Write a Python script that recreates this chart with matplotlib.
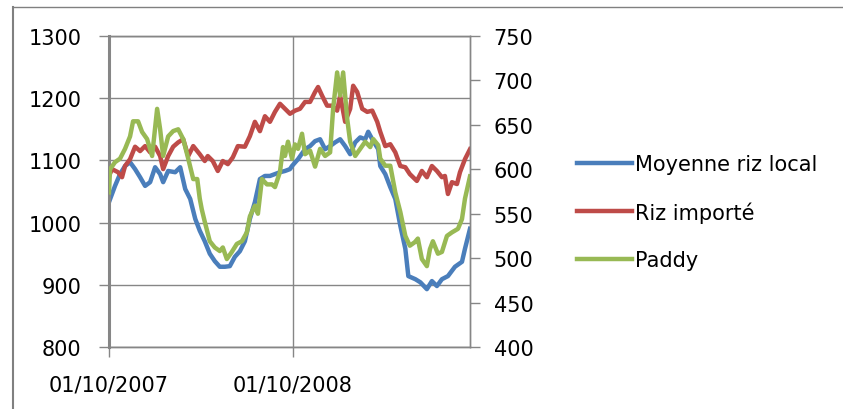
import numpy as np
import matplotlib
matplotlib.use("Agg")
import matplotlib.pyplot as plt
import matplotlib.dates as mdates
from matplotlib.lines import Line2D

START = np.datetime64("2007-10-01")

# Moyenne riz local (left axis), days after 01/10/2007
local_days = [0, 12, 22, 32, 42, 52, 62, 72, 82, 92, 102, 108, 118, 132, 142, 152,
              162, 172, 181, 191, 201, 211, 221, 231, 241, 251, 261, 271, 281, 291,
              301, 311, 321, 331, 341, 351, 361, 365, 377, 391, 401, 411, 421, 431,
              441, 451, 461, 471, 481, 491, 501, 511, 517, 527, 537, 541, 551, 561,
              571, 581, 591, 597, 611, 621, 634, 644, 654, 664, 676, 690, 704, 710, 720]
local_vals = [1033, 1059, 1078, 1091, 1097, 1086, 1073, 1059, 1065, 1089, 1078, 1065,
              1083, 1081, 1089, 1054, 1038, 1006, 987, 970, 950, 938, 929, 929, 930,
              945, 954, 970, 1006, 1033, 1070, 1075, 1075, 1078, 1081, 1083, 1086,
              1091, 1102, 1118, 1123, 1131, 1134, 1118, 1123, 1129, 1134, 1123, 1110,
              1129, 1137, 1134, 1146, 1131, 1118, 1091, 1078, 1057, 1038, 995, 958,
              914, 909, 904, 893, 906, 898, 909, 914, 929, 937, 958, 990]

# Riz importe (left axis)
import_days = [0, 6, 18, 26, 32, 42, 52, 62, 72, 82, 92, 102, 108, 118, 128, 138, 148,
               158, 168, 181, 191, 197, 207, 217, 227, 237, 247, 257, 271, 281, 291,
               301, 311, 321, 331, 341, 351, 361, 371, 381, 391, 401, 411, 417, 425,
               435, 445, 455, 461, 471, 481, 487, 495, 505, 515, 525, 535, 541, 551,
               561, 571, 581, 591, 600, 614, 624, 634, 644, 654, 664, 670, 676, 684,
               694, 700, 710, 720]
import_vals = [1075, 1086, 1081, 1073, 1091, 1102, 1122, 1115, 1123, 1113, 1122, 1107,
               1086, 1107, 1122, 1129, 1134, 1107, 1123, 1110, 1099, 1107, 1099, 1083,
               1099, 1094, 1105, 1123, 1122, 1139, 1162, 1147, 1171, 1162, 1178, 1191,
               1183, 1175, 1180, 1183, 1194, 1194, 1210, 1218, 1204, 1188, 1188, 1180,
               1204, 1162, 1183, 1220, 1210, 1183, 1178, 1180, 1162, 1146, 1123, 1126,
               1113, 1091, 1089, 1078, 1067, 1083, 1073, 1091, 1083, 1073, 1075, 1046,
               1065, 1062, 1081, 1102, 1118]

# Paddy (right axis)
paddy_days = [0, 2, 12, 22, 32, 42, 48, 58, 66, 76, 86, 96, 102, 108, 118, 128, 138,
              148, 158, 168, 176, 181, 185, 191, 201, 211, 221, 227, 235, 245, 255,
              265, 275, 281, 291, 297, 305, 315, 325, 331, 341, 347, 351, 357, 365,
              371, 377, 385, 391, 401, 411, 421, 431, 441, 447, 455, 461, 467, 475,
              481, 491, 501, 511, 521, 527, 537, 541, 551, 561, 571, 581, 591, 600,
              610, 616, 624, 634, 640, 646, 656, 664, 674, 684, 696, 704, 710, 720]
paddy_vals = [574, 600, 608, 612, 623, 637, 654, 654, 642, 634, 615, 668, 645, 615, 637,
              643, 645, 634, 612, 589, 589, 567, 555, 541, 519, 512, 508, 512, 499, 507,
              516, 519, 529, 547, 559, 550, 589, 583, 583, 580, 597, 625, 615, 631, 612,
              628, 623, 640, 617, 621, 603, 623, 615, 619, 668, 709, 683, 709, 657, 631,
              615, 623, 631, 625, 634, 627, 612, 604, 604, 574, 552, 525, 514, 518, 522,
              499, 491, 510, 519, 505, 507, 525, 529, 533, 544, 567, 592]

labels = ["Moyenne riz local", "Riz importé", "Paddy"]
colors = ["#4A7EBB", "#BE4B48", "#98B954"]
xtick_dates = ["2007-10-01", "2008-10-01"]

GRAY = "#868686"
W, H = 843, 410


def to_dates(days):
    return (START + np.array(days, dtype="timedelta64[D]")).astype("datetime64[D]")


def main():
    plt.rcParams["font.family"] = ["DejaVu Sans"]
    fig = plt.figure(figsize=(W / 100, H / 100), dpi=100)
    ax = fig.add_axes([109 / W, 1 - 348 / H, (470 - 109) / W, (348 - 37) / H])
    ax2 = ax.twinx()

    l1, = ax.plot(to_dates(local_days), local_vals, color=colors[0], lw=3.2)
    l2, = ax.plot(to_dates(import_days), import_vals, color=colors[1], lw=3.2)
    l3, = ax2.plot(to_dates(paddy_days), paddy_vals, color=colors[2], lw=3.2)

    ax.set_xlim(to_dates([0])[0], to_dates([720])[0])
    ax.set_ylim(800, 1300)
    ax.set_yticks(np.arange(800, 1301, 100))
    ax2.set_ylim(400, 750)
    ax2.set_yticks(np.arange(400, 751, 50))

    xt = np.array(xtick_dates, dtype="datetime64[D]")
    ax.set_xticks(xt)
    ax.xaxis.set_major_formatter(mdates.DateFormatter("%d/%m/%Y"))

    # excel-like gridlines and spines
    ax.grid(True, color=GRAY, lw=1.0)
    ax.set_axisbelow(True)
    for a in (ax, ax2):
        for s in a.spines.values():
            s.set_color(GRAY)
            s.set_linewidth(1.0)
    ax.spines["left"].set_linewidth(2.2)
    ax2.spines["left"].set_visible(False)
    ax.tick_params(axis="y", length=7, width=1, color=GRAY, pad=13, labelsize=15)
    ax.tick_params(axis="x", length=7, width=1, color=GRAY, pad=13, labelsize=15)
    ax2.tick_params(axis="y", length=7, width=1, color=GRAY, pad=10, labelsize=15)

    fig.legend([l1, l2, l3], labels, loc="center left",
               bbox_to_anchor=(577 / W, 1 - 213 / H), frameon=False, fontsize=15,
               handlelength=2.65, handletextpad=0.15, labelspacing=1.3,
               borderpad=0, borderaxespad=0)

    # page border around the chart
    fig.add_artist(Line2D([13 / W, 13 / W], [0, 1 - 8 / H], color="#808080", lw=1.5))
    fig.add_artist(Line2D([13 / W, 1], [1 - 8 / H, 1 - 8 / H], color="#808080", lw=1.0))

    fig.savefig("out.png", dpi=100)
    plt.close(fig)


if __name__ == "__main__":
    main()
